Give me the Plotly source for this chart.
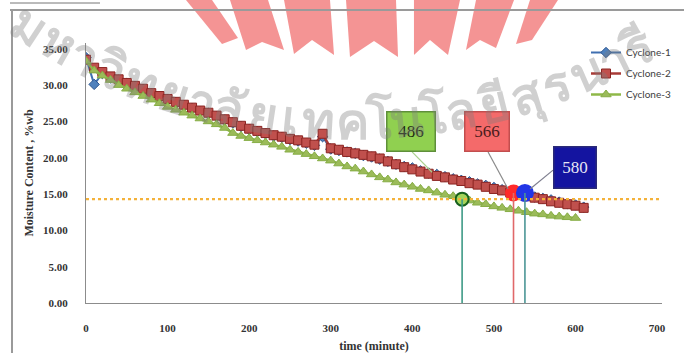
import math
import plotly.graph_objects as go

# Drying time (minutes) and moisture content (%wb) of the three cyclone runs
time_min = list(range(0, 620, 10))

cyclone1 = [33.8, 30.1, 31.6, 31.0, 30.7, 30.2, 29.8, 29.4, 28.8, 28.4,
            28.0, 27.6, 27.2, 26.8, 26.4, 26.1, 25.7, 25.2, 24.8, 24.3,
            23.9, 23.6, 23.3, 23.0, 22.8, 22.5, 22.3, 22.0, 21.7, 22.9,
            21.2, 21.0, 20.8, 20.6, 20.3, 20.1, 19.8, 19.5, 19.1, 18.8,
            18.6, 18.2, 17.9, 17.7, 17.4, 17.1, 16.9, 16.7, 16.4, 16.2,
            15.9, 15.6, 15.4, 15.1, 14.9, 14.6, 14.4, 14.2, 13.9, 13.7,
            13.5, 13.2]

cyclone2 = [33.5, 32.4, 31.8, 31.2, 30.8, 30.3, 29.9, 29.5, 28.9, 28.5,
            28.1, 27.7, 27.3, 26.9, 26.5, 26.2, 25.8, 25.3, 24.9, 24.4,
            24.0, 23.7, 23.4, 23.1, 22.9, 22.6, 22.4, 22.1, 21.8, 23.3,
            21.3, 21.1, 20.8, 20.6, 20.4, 20.2, 19.9, 19.5, 19.1, 18.7,
            18.4, 18.1, 17.8, 17.5, 17.3, 17.0, 16.8, 16.5, 16.3, 16.0,
            15.7, 15.5, 15.2, 14.9, 14.7, 14.5, 14.3, 14.0, 13.8, 13.6,
            13.4, 13.1]

cyclone3 = [33.3, 32.0, 31.3, 30.7, 30.0, 29.5, 29.0, 28.5, 28.0, 27.5,
            27.0, 26.6, 26.2, 25.8, 25.4, 25.0, 24.6, 24.1, 23.4, 23.0,
            22.7, 22.4, 22.1, 21.8, 21.5, 21.1, 20.8, 20.5, 20.2, 19.9,
            19.6, 19.2, 18.8, 18.5, 18.1, 17.7, 17.3, 17.0, 16.6, 16.3,
            16.0, 15.7, 15.5, 15.2, 14.9, 14.7, 14.4, 14.1, 13.8, 13.6,
            13.3, 13.1, 12.9, 12.7, 12.5, 12.3, 12.2, 12.0, 11.9, 11.8,
            11.7]

series_names = ["Cyclone-1", "Cyclone-2", "Cyclone-3"]

# Target moisture level and the points where each run reaches it
target_mc = 14.3
cross_time = [461, 524, 538]
cross_mc = [14.3, 15.15, 15.15]
cross_labels = ["486", "566", "580"]

x_ticks = [0, 100, 200, 300, 400, 500, 600, 700]
y_ticks = [0, 5, 10, 15, 20, 25, 30, 35]

# figure geometry (pixels)
W, H = 684, 353
ML, MR, MT, MB = 86, 22, 43, 50
PW, PH = W - ML - MR, H - MT - MB


def px(xp):
    return (xp - ML) / PW


def py(yp):
    return (H - MB - yp) / PH


SERIF = "Liberation Serif, Times New Roman, serif"
AXIS_GRAY = "#8c8c8c"

fig = go.Figure()

# university emblem rays (behind the plot)
ray_color = "rgba(234,50,50,0.52)"
rays = [
    [(186, 0), (212, 0), (238, 38), (222, 44)],
    [(230, 0), (268, 0), (284, 50), (262, 42), (246, 50)],
    [(284, 0), (330, 0), (334, 55), (312, 40), (294, 54)],
    [(346, 0), (396, 0), (398, 57), (374, 41), (350, 57)],
    [(414, 0), (460, 0), (448, 55), (430, 40), (414, 55)],
    [(476, 0), (514, 0), (496, 48), (480, 40), (466, 50)],
    [(530, 0), (558, 0), (532, 40), (516, 44)],
]
for poly in rays:
    path = "M " + " L ".join(f"{px(a):.4f},{py(b):.4f}" for a, b in poly) + " Z"
    fig.add_shape(type="path", xref="paper", yref="paper", path=path,
                  fillcolor=ray_color, line=dict(width=0), layer="below")

styles = [
    dict(line=dict(color="#3f6fb0", width=2),
         marker=dict(symbol="diamond", size=8, color="#4f81bd",
                     line=dict(color="#2c5590", width=1))),
    dict(line=dict(color="#a83a36", width=2.5),
         marker=dict(symbol="square", size=9, color="#c0504d",
                     line=dict(color="#8b2421", width=1))),
    dict(line=dict(color="#8fb848", width=2.5),
         marker=dict(symbol="triangle-up", size=9, color="#9bbb59",
                     line=dict(color="#86ad45", width=1))),
]
data = [cyclone1, cyclone2, cyclone3]
for name, ys, st in zip(series_names, data, styles):
    fig.add_trace(go.Scatter(
        x=time_min[:len(ys)], y=ys, name=name, mode="lines+markers",
        legendgroup=name, **st))

# dotted target line
fig.add_shape(type="line", xref="x", yref="y", x0=0, x1=706,
              y0=target_mc, y1=target_mc,
              line=dict(color="#f4b23a", width=2.2, dash="dot"))

# drop lines from the crossing points
drop_colors = ["#3e9a86", "#e0686a", "#4b9696"]
for t, m, c in zip(cross_time, cross_mc, drop_colors):
    fig.add_shape(type="line", xref="x", yref="y", x0=t, x1=t, y0=0, y1=m,
                  line=dict(color=c, width=1.6))

# crossing markers
cross_fill = ["#a3d45a", "#ff2a2a", "#2236e6"]
cross_edge = ["#17601c", "#ff2a2a", "#2236e6"]
cross_size = [13, 15, 16]
for t, m, f, e, s in zip(cross_time, cross_mc, cross_fill, cross_edge, cross_size):
    fig.add_trace(go.Scatter(
        x=[t], y=[m], mode="markers", showlegend=False, hoverinfo="skip",
        marker=dict(size=s, color=f, line=dict(color=e, width=2))))

# callout boxes with leader lines
box_xy = [(398, 23.55), (491.6, 23.55), (599.5, 18.6)]
box_wh = [(47, 38), (43, 38), (41, 40)]
box_fill = ["#90d050", "#f46a6a", "#1414a0"]
box_edge = ["#5f8f3a", "#c24e4e", "#2a2a78"]
box_text = ["#1e2a10", "#4a1c1c", "#e6e6f5"]
leaders = [((399.7, 20.8), (424.2, 18.0), "#a9d08e"),
           ((492.8, 20.8), (517.3, 15.7), "#8a8a8a"),
           ((572.5, 18.3), (544.3, 15.7), "#7e7e8e")]
for (a, b, c) in leaders:
    fig.add_shape(type="line", xref="x", yref="y", x0=a[0], y0=a[1],
                  x1=b[0], y1=b[1], line=dict(color=c, width=1.2))
for lab, (bx, by), (bw, bh), f, e, tc in zip(cross_labels, box_xy, box_wh,
                                             box_fill, box_edge, box_text):
    fig.add_annotation(x=bx, y=by, xref="x", yref="y", text=lab,
                       showarrow=False, width=bw, height=bh, bgcolor=f,
                       bordercolor=e, borderwidth=1.5, borderpad=0,
                       font=dict(family=SERIF, size=17, color=tc),
                       xanchor="center", yanchor="middle")

# page frame and caption rule
fig.add_shape(type="line", xref="paper", yref="paper", x0=px(10), x1=px(684),
              y0=py(10), y1=py(10), line=dict(color="#9a9a9a", width=2))
fig.add_shape(type="line", xref="paper", yref="paper", x0=px(12), x1=px(12),
              y0=py(10), y1=py(353), line=dict(color="#9a9a9a", width=2))
fig.add_shape(type="line", xref="paper", yref="paper", x0=px(10), x1=px(100),
              y0=py(3), y1=py(3), line=dict(color="#777777", width=1))

# arched university name watermark
name_glyphs = ["ม", "ห", "า", "วิ", "ท", "ย", "า", "ลั", "ย", "เ", "ท", "ค",
               "โ", "น", "โ", "ล", "ยี", "สุ", "ร", "น", "า", "รี"]
glyph_w = [1, 1, 0.7, 1, 1, 1, 0.7, 1, 1, 0.6, 1, 1,
           0.6, 1, 0.6, 1, 1, 1, 0.9, 1, 0.7, 0.9]
unit = 34
cx, cy, r = 352, -466, 586
pivot = sum(glyph_w[:11]) + glyph_w[11] / 2
acc = 0.0
for g, w in zip(name_glyphs, glyph_w):
    s = (acc + w / 2 - pivot) * unit
    acc += w
    th = s / r
    xp = cx + r * math.sin(th)
    yp = cy + r * math.cos(th)
    fig.add_annotation(x=px(xp), y=py(yp), xref="paper", yref="paper",
                       text=f"<b>{g}</b>", showarrow=False,
                       textangle=-math.degrees(th),
                       font=dict(family="Noto Sans, DejaVu Sans, sans-serif",
                                 size=50, color="rgba(125,125,125,0.36)"),
                       xanchor="center", yanchor="middle")

fig.update_layout(
    width=W, height=H,
    margin=dict(l=ML, r=MR, t=MT, b=MB, autoexpand=False),
    paper_bgcolor="white", plot_bgcolor="white",
    showlegend=True,
    legend=dict(x=px(586), y=py(38), xanchor="left", yanchor="top",
                bgcolor="rgba(0,0,0,0)", tracegroupgap=2, itemwidth=30,
                font=dict(family="Lato, Open Sans, sans-serif", size=10,
                          color="#404040")),
    xaxis=dict(range=[0, 706], tickvals=x_ticks, showgrid=False,
               zeroline=False, showline=True, linecolor=AXIS_GRAY, linewidth=1,
               automargin=False,
               ticks="outside", ticklen=15, tickcolor="rgba(0,0,0,0)",
               tickfont=dict(family=SERIF, size=11, color="#333333", weight="bold"),
               title=dict(text="time (minute)", standoff=16,
                          font=dict(family=SERIF, size=12, color="#333333",
                                    weight="bold"))),
    yaxis=dict(range=[0, 35.8], tickvals=y_ticks, tickformat=".2f",
               showgrid=False, zeroline=False, showline=True,
               linecolor=AXIS_GRAY, linewidth=1, automargin=False,
               ticks="outside", ticklen=15, tickcolor="rgba(0,0,0,0)",
               tickfont=dict(family=SERIF, size=11, color="#333333", weight="bold"),
               title=dict(text="Moisture Content , %wb", standoff=6,
                          font=dict(family=SERIF, size=12, color="#333333",
                                    weight="bold"))),
)

fig.write_html("out.html")
